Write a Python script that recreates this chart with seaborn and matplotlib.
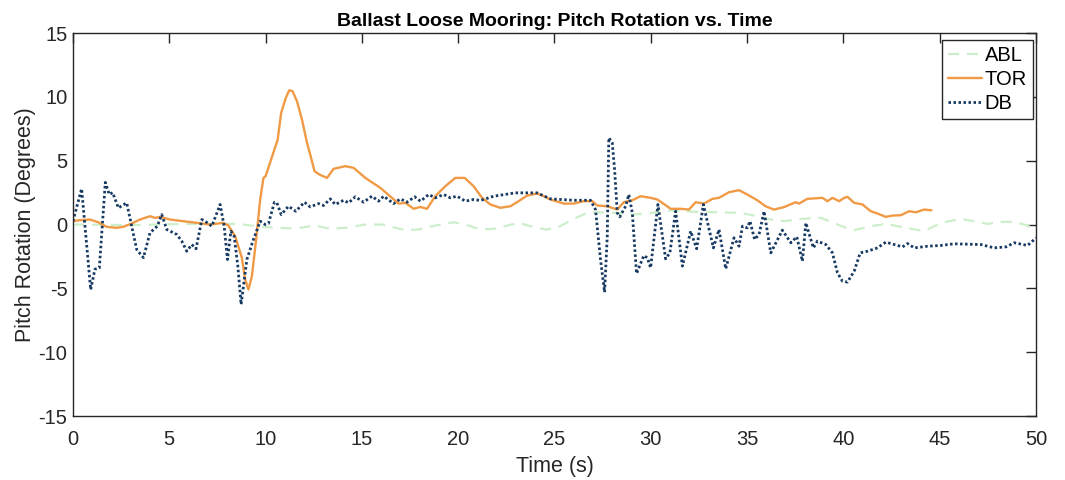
import numpy as np
import pandas as pd
import matplotlib
matplotlib.use("Agg")
import matplotlib.pyplot as plt
import seaborn as sns

# ABL series
abl_t = [0, 3, 6, 8.5, 9.98, 10.67, 11.54, 12.58, 13.36, 14.14, 15.18, 16.04, 17.26, 17.95,
         18.81, 19.77, 20.37, 21.15, 21.85, 23.14, 23.75, 24.53, 25.14, 25.92, 26.7, 27.22,
         28.08, 29.12, 30.0, 31.03, 32.24, 33.45, 34.66, 35.53, 36.23, 36.92, 37.79, 38.83,
         39.69, 40.13, 40.56, 41.42, 42.2, 42.98, 44.19, 45.06, 46.1, 46.79, 47.48, 48.18,
         48.87, 49.56, 50.0]
abl_v = [0.0, -0.05, 0.05, 0.05, -0.2, -0.26, -0.31, -0.08, -0.34, -0.26,
         0.0, 0.0, -0.44, -0.39, -0.08, 0.18, 0.0, -0.39, -0.34, 0.13,
         -0.13, -0.39, -0.26, 0.39, 0.91, 0.96, 0.91, 0.78, 0.9, 1.1,
         1.0, 0.96, 0.91, 0.65, 0.39, 0.26, 0.44, 0.52, 0.0, -0.26,
         -0.44, -0.13, 0.05, -0.18, -0.52, 0.13, 0.44, 0.26, 0.05, 0.21,
         0.21, -0.08, -0.44]

# TOR series
tor_t = [0, 0.35, 0.88, 1.31, 1.75, 2.27, 2.61, 3.05, 3.48, 4.0, 4.26, 4.52, 5.04, 5.73,
         6.43, 7.12, 7.81, 8.07, 8.42, 8.77, 8.94, 9.11, 9.29, 9.51, 9.72, 9.89, 10.0,
         10.23, 10.63, 10.81, 11.05, 11.23, 11.4, 11.63, 11.89, 12.15, 12.32, 12.54, 12.79,
         13.19, 13.53, 14.14, 14.57, 15.18, 15.96, 16.56, 16.91, 17.26, 17.69, 18.04, 18.38,
         18.81, 19.33, 19.85, 20.34, 20.8, 21.24, 21.67, 22.19, 22.71, 23.14, 23.58, 24.1,
         24.44, 24.79, 25.48, 26.0, 26.52, 26.96, 27.22, 27.74, 28.26, 28.6, 29.04, 29.47,
         29.99, 30.34, 30.65, 31.03, 31.55, 31.98, 32.33, 32.76, 33.2, 33.54, 34.06, 34.58,
         35.01, 35.53, 35.96, 36.39, 36.91, 37.52, 37.69, 38.13, 38.91, 39.17, 39.43, 39.78,
         40.04, 40.21, 40.56, 40.99, 41.42, 41.77, 42.2, 42.55, 42.98, 43.41, 43.76, 44.19,
         44.57]
tor_v = [0.26, 0.34, 0.39, 0.18, -0.18, -0.26, -0.18, 0.08, 0.39, 0.65, 0.52, 0.6, 0.39, 0.26,
         0.13, 0.0, 0.13, -0.08, -0.91, -2.61, -4.31, -5.09, -4.05, -1.17, 1.96, 3.65, 3.78,
         4.83, 6.66, 8.75, 9.92, 10.52, 10.44, 9.66, 8.22, 6.4, 5.48, 4.18, 3.92,
         3.65, 4.36, 4.57, 4.44, 3.65, 2.87, 2.09, 1.64, 1.7, 1.23, 1.38, 1.23,
         2.22, 3.0, 3.65, 3.65, 3.0, 2.09, 1.57, 1.31, 1.43, 1.83, 2.27, 2.43,
         2.22, 1.96, 1.64, 1.64, 1.83, 1.83, 1.49, 1.43, 1.17, 1.75, 1.9, 2.22,
         2.09, 1.96, 1.64, 1.23, 1.23, 1.17, 1.75, 1.64, 2.01, 2.09, 2.53, 2.69,
         2.35, 1.9, 1.43, 1.17, 1.36, 1.75, 1.64, 2.01, 2.09, 1.83, 2.09, 1.83,
         2.09, 2.17, 1.7, 1.57, 1.04, 0.86, 0.6, 0.7, 0.73, 1.04, 0.96, 1.17,
         1.12]

# DB series
db_t = [0, 0.45, 0.92, 1.14, 1.37, 1.68, 1.89, 2.06, 2.36, 2.79,
        3.31, 3.66, 4.0, 4.38, 4.61, 4.87, 5.39, 5.65, 5.91, 6.17,
        6.39, 6.69, 6.86, 7.21, 7.64, 7.85, 8.02, 8.2, 8.37, 8.56,
        8.73, 9.03, 9.34, 9.72, 9.98, 10.15, 10.46, 10.59, 10.81, 11.19,
        11.57, 12.02, 12.32, 12.75, 13.01, 13.36, 13.62, 14.05, 14.31, 14.66,
        15.09, 15.52, 15.87, 16.13, 16.65, 17.0, 17.34, 17.74, 18.04, 18.47,
        18.81, 19.25, 19.59, 19.94, 20.37, 20.8, 21.15, 21.85, 22.97, 24.1,
        24.79, 26.0, 26.87, 27.13, 27.39, 27.6, 27.74, 27.82, 28.0, 28.12,
        28.26, 28.39, 28.69, 28.86, 29.04, 29.26, 29.64, 29.82, 29.99, 30.37,
        30.77, 30.99, 31.29, 31.64, 32.07, 32.38, 32.73, 33.25, 33.54, 33.89,
        34.32, 34.58, 34.76, 35.01, 35.15, 35.39, 35.62, 35.88, 36.23, 36.83,
        37.27, 37.58, 37.87, 38.05, 38.44, 38.65, 39.09, 39.43, 39.69, 39.95,
        40.21, 40.56, 40.87, 41.25, 41.77, 42.2, 42.64, 43.07, 43.33, 43.68,
        44.37, 45.06, 45.75, 47.14, 47.83, 48.44, 48.87, 49.56, 50.0]
db_v = [0.26, 2.8, -5.1, -3.5, -3.4, 3.3, 2.35, 2.5, 1.3, 1.7,
        -1.96, -2.6, -0.65, -0.13, 0.78, -0.39, -0.78, -1.3, -2.09, -1.57,
        -1.9, 0.39, 0.26, -0.13, 1.57, -0.13, -2.74, -0.52, -0.91, -3.26,
        -6.26, -2.74, -1.3, 0.26, 0.0, 0.08, 1.75, 1.7, 0.78, 1.43,
        1.04, 1.75, 1.38, 1.64, 1.49, 2.01, 1.57, 1.9, 1.7, 2.17,
        1.75, 2.22, 1.83, 2.22, 1.64, 2.01, 1.75, 2.17, 1.83, 2.35,
        2.09, 2.35, 2.09, 2.22, 1.83, 1.96, 1.88, 2.22, 2.48, 2.48,
        2.01, 1.9, 1.9, 1.17, -2.74, -5.3, -0.91, 6.79, 6.4, 4.3,
        0.91, 0.6, 1.43, 2.35, 0.91, -3.84, -2.43, -2.61, -3.39, 1.57,
        -2.69, -2.22, 1.04, -3.26, -0.52, -1.9, 1.57, -1.83, -0.39, -3.47,
        -1.04, -1.7, -0.13, -0.26, 0.26, -1.17, -0.78, 1.04, -2.22, -0.44,
        -1.43, -0.96, -2.87, 0.13, -1.83, -1.3, -1.57, -2.22, -3.78, -4.44,
        -4.51, -3.65, -2.22, -2.09, -1.83, -1.38, -1.57, -1.75, -1.49, -1.83,
        -1.7, -1.64, -1.51, -1.57, -1.83, -1.75, -1.43, -1.64, -1.05]

x_ticks = [0, 5, 10, 15, 20, 25, 30, 35, 40, 45, 50]
y_ticks = [-15, -10, -5, 0, 5, 10, 15]

sns.set_style("white")
plt.rcParams["font.family"] = ["Liberation Sans", "DejaVu Sans"]

fig = plt.figure(figsize=(10.65, 4.8), dpi=100)
ax = fig.add_axes([0.0685, 0.1333, 0.9043, 0.7979])

abl = pd.DataFrame({"t": abl_t, "v": abl_v})
tor = pd.DataFrame({"t": tor_t, "v": tor_v})
db = pd.DataFrame({"t": db_t, "v": db_v})

sns.lineplot(data=abl, x="t", y="v", ax=ax, color="#cdeecb", linewidth=1.6,
             linestyle=(0, (5, 3.5)), label="ABL", estimator=None, sort=False)
sns.lineplot(data=tor, x="t", y="v", ax=ax, color="#f19a45", linewidth=1.7,
             linestyle="-", label="TOR", estimator=None, sort=False)
sns.lineplot(data=db, x="t", y="v", ax=ax, color="#173a63", linewidth=2.0,
             linestyle=(0, (0.9, 0.9)), label="DB", estimator=None, sort=False)

ax.set_xlim(0, 50)
ax.set_ylim(-15, 15)
ax.set_xticks(x_ticks)
ax.set_yticks(y_ticks)
ax.set_xticklabels([str(v) for v in x_ticks])
ax.set_yticklabels([str(v) for v in y_ticks])

ax.tick_params(direction="in", top=True, right=True, length=7, width=1,
               color="#262626", labelsize=14.5, labelcolor="#262626")
ax.tick_params(axis="x", pad=10)
ax.tick_params(axis="y", pad=4)
for sp in ax.spines.values():
    sp.set_color("#262626")
    sp.set_linewidth(1.0)

ax.set_xlabel("Time (s)", fontsize=15.5, color="#262626", labelpad=5)
ax.set_ylabel("Pitch Rotation (Degrees)", fontsize=15.5, color="#262626", labelpad=2)
ax.set_title("Ballast Loose Mooring: Pitch Rotation vs. Time", fontsize=14,
             fontweight="bold", color="#000000", pad=5)

leg = ax.legend(loc="upper right", bbox_to_anchor=(0.997, 0.982), borderaxespad=0,
                fontsize=14.5, frameon=True, fancybox=False,
                handlelength=1.7, handletextpad=0.15, borderpad=0.3,
                labelspacing=0.25)
leg.get_frame().set_edgecolor("#262626")
leg.get_frame().set_linewidth(1.0)
leg.get_frame().set_alpha(1.0)
for txt in leg.get_texts():
    txt.set_color("#000000")

fig.savefig("out.png", dpi=100)
